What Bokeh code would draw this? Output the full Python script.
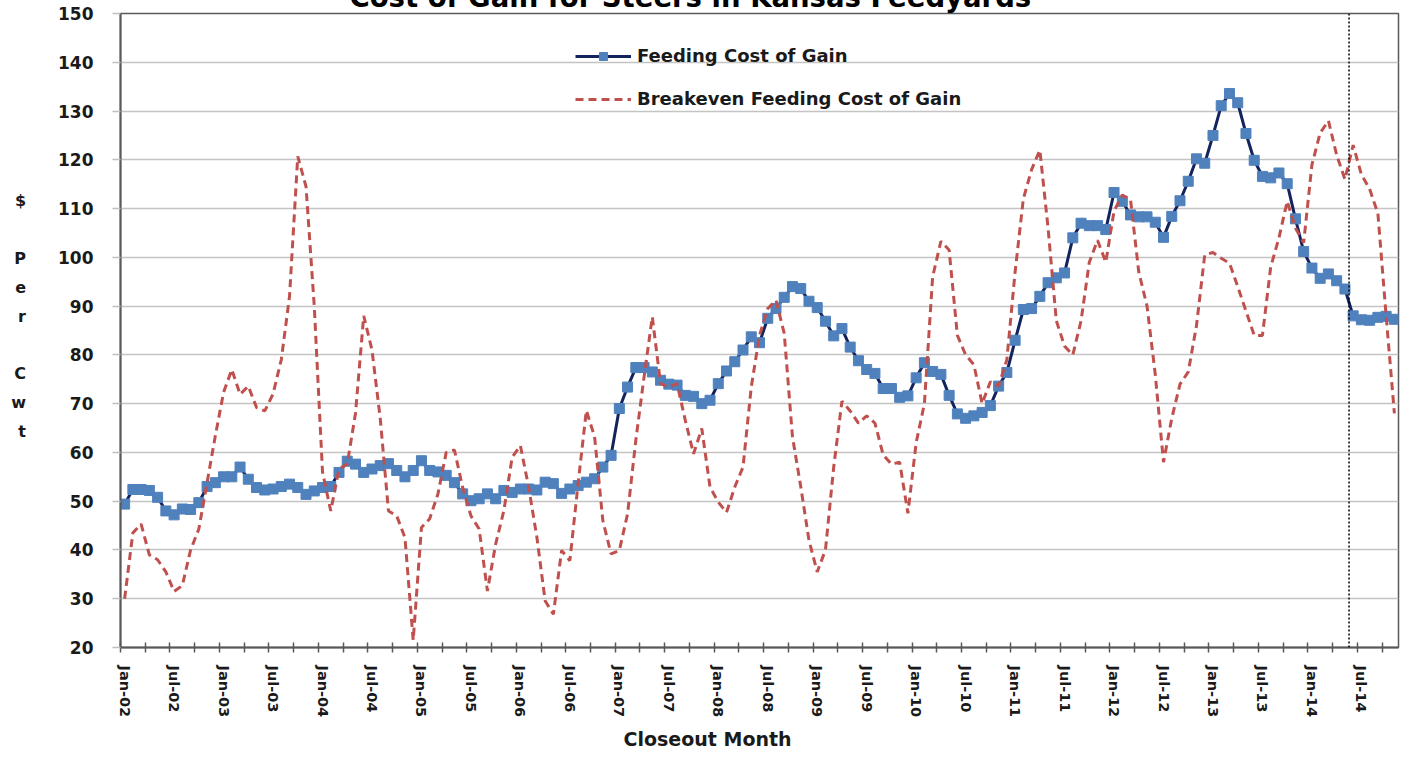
from bokeh.plotting import figure
from bokeh.models import FixedTicker, Range1d, Legend, LegendItem, Span, Title
from bokeh.embed import file_html
from bokeh.resources import INLINE

# ---------------- data ----------------
tick_labels = ["Jan-02", "Jul-02", "Jan-03", "Jul-03", "Jan-04", "Jul-04", "Jan-05", "Jul-05",
               "Jan-06", "Jul-06", "Jan-07", "Jul-07", "Jan-08", "Jul-08", "Jan-09", "Jul-09",
               "Jan-10", "Jul-10", "Jan-11", "Jul-11", "Jan-12", "Jul-12", "Jan-13", "Jul-13",
               "Jan-14", "Jul-14"]

# monthly closeouts Jan-02 .. Nov-14, $ per cwt
feeding_cost = [
    49.4, 52.4, 52.4, 52.2, 50.8, 48.0, 47.2, 48.4, 48.3, 49.7,
    53.0, 53.8, 55.0, 55.0, 57.0, 54.5, 52.8, 52.3, 52.5, 53.0,
    53.5, 52.8, 51.4, 52.1, 52.8, 53.0, 55.9, 58.2, 57.6, 55.9,
    56.6, 57.3, 57.7, 56.3, 55.0, 56.3, 58.3, 56.3, 56.0, 55.3,
    53.8, 51.5, 50.1, 50.5, 51.5, 50.5, 52.2, 51.8, 52.5, 52.5,
    52.3, 53.9, 53.6, 51.6, 52.5, 53.2, 53.9, 54.6, 57.0, 59.4,
    69.0, 73.4, 77.4, 77.4, 76.5, 74.8, 74.0, 73.8, 71.7, 71.5,
    70.0, 70.7, 74.1, 76.7, 78.6, 81.0, 83.7, 82.5, 87.5, 89.5,
    91.8, 94.0, 93.6, 91.0, 89.7, 86.9, 83.9, 85.4, 81.6, 78.8,
    77.0, 76.2, 73.1, 73.1, 71.3, 71.6, 75.3, 78.4, 76.6, 76.0,
    71.7, 67.9, 67.0, 67.5, 68.2, 69.6, 73.6, 76.4, 83.0, 89.3,
    89.5, 92.0, 94.8, 95.8, 96.8, 104.0, 107.0, 106.5, 106.5, 105.7,
    113.3, 111.5, 108.7, 108.3, 108.3, 107.2, 104.1, 108.4, 111.6, 115.6,
    120.2, 119.3, 125.0, 131.1, 133.6, 131.7, 125.4, 119.9, 116.6, 116.3,
    117.3, 115.1, 107.9, 101.2, 97.8, 95.7, 96.6, 95.2, 93.5, 88.0,
    87.2, 87.1, 87.7, 87.9, 87.3,
]

breakeven_cost = [
    30.0, 43.5, 45.3, 39.0, 38.0, 35.5, 31.5, 32.7, 40.0, 44.3,
    53.8, 63.4, 72.3, 77.0, 71.9, 73.6, 69.2, 68.5, 72.0, 79.0,
    92.0, 120.7, 114.5, 90.0, 56.0, 48.0, 56.6, 57.6, 68.0, 88.0,
    81.0, 67.0, 48.0, 47.0, 42.5, 21.5, 44.6, 46.4, 51.5, 60.0,
    60.5, 52.8, 47.0, 44.3, 31.6, 41.2, 48.1, 59.0, 61.4, 52.9,
    42.6, 29.6, 26.8, 39.9, 37.8, 53.6, 68.6, 63.2, 46.0, 39.2,
    39.9, 47.4, 62.5, 75.5, 87.8, 74.1, 73.4, 74.1, 66.6, 59.7,
    64.9, 52.9, 49.8, 47.7, 52.9, 57.0, 73.4, 84.0, 89.5, 91.2,
    84.4, 63.2, 53.0, 42.0, 35.5, 40.0, 57.0, 70.5, 68.5, 66.0,
    67.5, 66.0, 59.5, 57.6, 58.0, 47.5, 62.0, 70.0, 96.0, 103.3,
    101.5, 84.0, 80.0, 78.0, 70.0, 74.5, 73.6, 79.0, 97.0, 112.0,
    118.0, 122.0, 106.0, 87.0, 81.8, 80.0, 87.0, 99.0, 103.5, 99.0,
    109.5, 112.8, 111.8, 97.0, 90.0, 76.0, 58.0, 67.0, 74.0, 76.5,
    86.0, 100.5, 101.0, 99.8, 98.8, 94.0, 89.0, 84.0, 84.0, 98.0,
    104.0, 111.5, 106.0, 103.0, 119.0, 125.5, 128.0, 121.0, 116.0, 123.0,
    117.0, 114.0, 109.0, 88.0, 68.0,
]

forecast_boundary = 149  # month boundary where the dotted divider is drawn (start of Jun-14)

title_text = "Cost of Gain for Steers in Kansas Feedyards"
x_title = "Closeout Month"
y_title = "$\n\nP\ne\nr\n\nC\nw\nt\n"

# ---------------- figure ----------------
n = len(feeding_cost)
xs = [i + 0.5 for i in range(n)]

FONT = "DejaVu Sans"
TXT = "#1a1a1a"
AX = "#595959"

p = figure(width=1397, height=782, output_backend="svg", toolbar_location=None,
           x_range=Range1d(0, n), y_range=Range1d(20, 150),
           min_border_left=109, min_border_right=7, min_border_top=36, min_border_bottom=112)
p.margin = (-23, 0, 0, 8)
p.background_fill_color = "white"
p.border_fill_color = "white"
p.outline_line_color = AX
p.outline_line_width = 1.5

p.title = Title(text=title_text, align="left", offset=229, standoff=2,
                text_font=FONT, text_font_style="bold", text_font_size="27.5px", text_color="black")

# grid
p.xgrid.visible = False
p.ygrid.grid_line_color = "#C4C4C4"
p.ygrid.grid_line_width = 1.5

# y axis
ya = p.yaxis[0]
ya.ticker = FixedTicker(ticks=list(range(20, 151, 10)), minor_ticks=[])
ya.major_tick_in = 0
ya.major_tick_out = 8
ya.minor_tick_in = 0
ya.minor_tick_out = 0
ya.major_tick_line_color = "#BFBFBF"
ya.major_tick_line_width = 1.5
ya.axis_line_color = AX
ya.axis_line_width = 2
ya.major_label_standoff = 19
ya.major_label_text_font = FONT
ya.major_label_text_font_style = "bold"
ya.major_label_text_font_size = "17px"
ya.major_label_text_color = TXT
ya.axis_label = y_title
ya.axis_label_orientation = "horizontal"
ya.axis_label_standoff = 29
ya.axis_label_text_align = "center"
ya.axis_label_text_line_height = 1.52
ya.axis_label_text_font = FONT
ya.axis_label_text_font_style = "bold"
ya.axis_label_text_font_size = "16px"
ya.axis_label_text_color = TXT

# x axis: labels centred on month, tick marks on 3-month boundaries
xa = p.xaxis[0]
label_pos = [0.5 + 6 * k for k in range(len(tick_labels))]
xa.ticker = FixedTicker(ticks=label_pos, minor_ticks=list(range(0, n, 3)))
xa.major_label_overrides = {pos: lab for pos, lab in zip(label_pos, tick_labels)}
xa.major_tick_in = 0
xa.major_tick_out = 0
xa.minor_tick_in = 5
xa.minor_tick_out = 5
xa.minor_tick_line_color = AX
xa.minor_tick_line_width = 1.5
xa.axis_line_color = AX
xa.axis_line_width = 2
xa.major_label_orientation = "vertical"
xa.major_label_standoff = 13
xa.major_label_text_font = FONT
xa.major_label_text_font_style = "bold"
xa.major_label_text_font_size = "14.5px"
xa.major_label_text_color = TXT

p.add_layout(Title(text=x_title, align="left", offset=503, vertical_align="top", standoff=15,
                   text_font=FONT, text_font_style="bold", text_font_size="19px", text_color=TXT),
             "below")

# series
blue_line = p.line(xs, feeding_cost, line_color="#12235E", line_width=3)
blue_pts = p.scatter(xs, feeding_cost, marker="square", size=10,
                     fill_color="#4F81BD", line_color="#4F81BD")
red_line = p.line(xs, breakeven_cost, line_color="#C0504D", line_width=3, line_dash="8 5")

p.add_layout(Span(location=forecast_boundary, dimension="height", line_color="black",
                  line_width=1.5, line_dash="2 2"))

legend = Legend(items=[LegendItem(label="Feeding Cost of Gain", renderers=[blue_line, blue_pts]),
                       LegendItem(label="Breakeven Feeding Cost of Gain", renderers=[red_line])],
                location=(455, 538), orientation="vertical",
                glyph_width=56, glyph_height=20, label_height=20, label_standoff=6,
                spacing=22, padding=0, margin=0,
                border_line_alpha=0, background_fill_alpha=0,
                label_text_font=FONT, label_text_font_style="bold",
                label_text_font_size="18px", label_text_color=TXT)
p.add_layout(legend)

open("out.html", "w").write(file_html(p, INLINE))
